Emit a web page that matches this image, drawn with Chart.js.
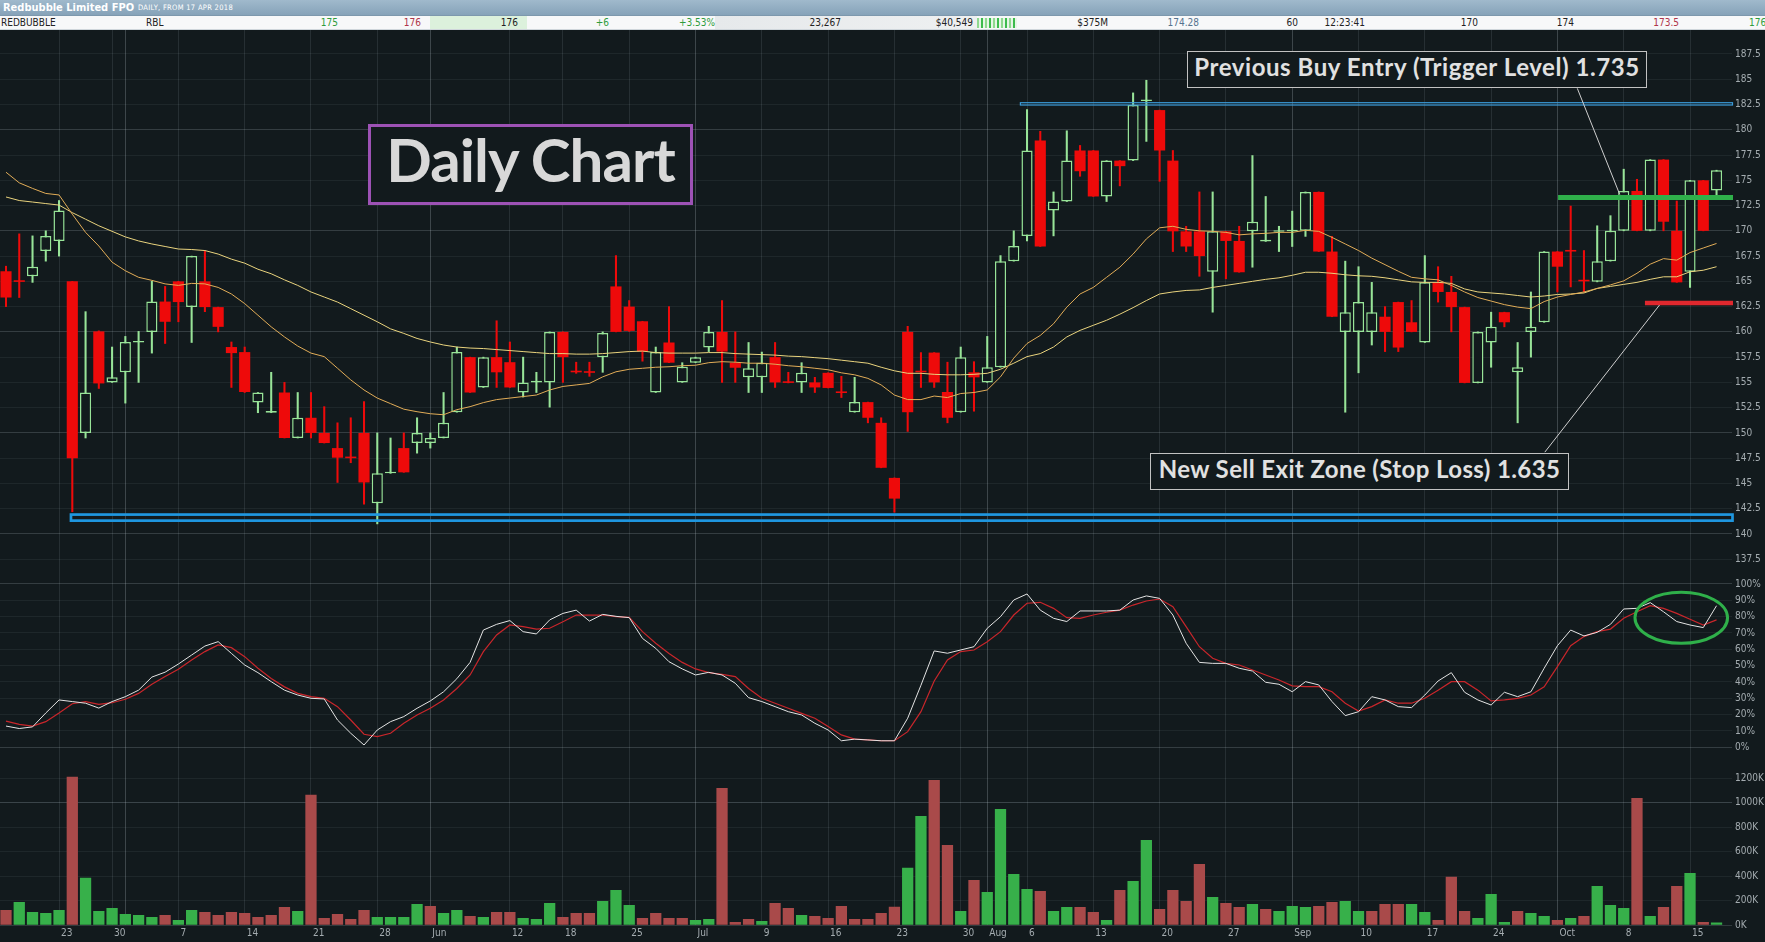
<!DOCTYPE html>
<html>
<head>
<meta charset="utf-8">
<title>Redbubble Limited FPO – Daily Chart</title>
<script src="https://cdn.jsdelivr.net/npm/chart.js@4.4.1/dist/chart.umd.min.js"></script>
<style>
  html, body { margin:0; padding:0; }
  body { width:1765px; height:942px; overflow:hidden; background:#121a1d; position:relative;
         font-family:'DejaVu Sans Condensed','Liberation Sans Narrow','DejaVu Sans',sans-serif; }
  .abs { position:absolute; white-space:nowrap; }
  #bar1 { left:0; top:0; width:1765px; height:15px; background:linear-gradient(#a0b9cc,#86a3b9); }
  #bar2 { left:0; top:15px; width:1765px; height:15px; background:#f7f8f9; border-top:1px solid #7d98ad; border-bottom:1px solid #cfd6db; box-sizing:border-box; }
  .t1 { top:0; height:15px; line-height:15px; color:#fff; }
  .h2 { top:16px; height:14px; line-height:14px; font-size:10px; color:#222; }
  .g { color:#2f9c3c; } .r { color:#b0364a; } .s { color:#56738f; }
  .cell { top:16px; height:13px; }
  canvas { position:absolute; left:0; }
  .note { box-sizing:border-box; background:#121a1d; text-align:center; font-family:Lato,'Open Sans',sans-serif; font-weight:700; color:#e1e1e1; z-index:5; }
  #dailyBox { left:368px; top:124px; width:325px; height:81px; border:3px solid #9d52b5; font-size:60px; line-height:65px; color:#d8d8d8; }
  #buyBox { left:1187px; top:51px; width:460px; height:37px; border:1.5px solid #c2c2c2; font-size:24px; line-height:30px; }
  #sellBox { left:1150px; top:453px; width:419px; height:37px; border:1.5px solid #c2c2c2; font-size:24px; line-height:30px; }
</style>
</head>
<body>
<div class="abs" id="bar1"></div>
<div class="abs t1" style="left:3px;font-size:11px;font-weight:bold;">Redbubble Limited FPO</div>
<div class="abs t1" style="left:138px;font-size:7.5px;letter-spacing:0.3px;">DAILY, FROM 17 APR 2018</div>
<div class="abs" id="bar2"></div>
<div class="abs cell" style="left:430px;width:97px;background:#dcf1dc;"></div>
<div class="abs cell" style="left:715px;width:262px;background:linear-gradient(90deg,#e6e9eb,#eef0f1);"></div>
<div class="abs cell" style="left:977px;width:40px;top:18px;height:10px;background:repeating-linear-gradient(90deg,#8fd98f 0 2px,#e6f6e6 2px 4px,#3dbb4d 4px 6px,#e6f6e6 6px 8px);"></div>
<div class="abs h2" style="left:1px;">REDBUBBLE</div>
<div class="abs h2" style="left:146px;">RBL</div>
<div class="abs h2 g" style="right:1427px;">175</div>
<div class="abs h2 r" style="right:1344px;">176</div>
<div class="abs h2" style="right:1247px;">176</div>
<div class="abs h2 g" style="right:1156px;">+6</div>
<div class="abs h2 g" style="right:1050px;">+3.53%</div>
<div class="abs h2" style="right:924px;">23,267</div>
<div class="abs h2" style="right:792px;">$40,549</div>
<div class="abs h2" style="right:657px;">$375M</div>
<div class="abs h2 s" style="right:566px;">174.28</div>
<div class="abs h2" style="right:467px;">60</div>
<div class="abs h2" style="right:400px;">12:23:41</div>
<div class="abs h2" style="right:287px;">170</div>
<div class="abs h2" style="right:191px;">174</div>
<div class="abs h2 r" style="right:86px;">173.5</div>
<div class="abs h2 g" style="left:1749px;">176</div>

<div class="abs note" id="dailyBox"><span>Daily Chart</span></div>
<div class="abs note" id="buyBox"><span>Previous Buy Entry (Trigger Level) 1.735</span></div>
<div class="abs note" id="sellBox"><span>New Sell Exit Zone (Stop Loss) 1.635</span></div>

<script>
// ---------------- DATA ----------------
const dates = [
 '2018-04-17','2018-04-18','2018-04-19','2018-04-20','2018-04-23','2018-04-24','2018-04-26','2018-04-27','2018-04-30',
 '2018-05-01','2018-05-02','2018-05-03','2018-05-04','2018-05-07','2018-05-08','2018-05-09','2018-05-10','2018-05-11',
 '2018-05-14','2018-05-15','2018-05-16','2018-05-17','2018-05-18','2018-05-21','2018-05-22','2018-05-23','2018-05-24',
 '2018-05-25','2018-05-28','2018-05-29','2018-05-30','2018-05-31',
 '2018-06-01','2018-06-04','2018-06-05','2018-06-06','2018-06-07','2018-06-08','2018-06-12','2018-06-13','2018-06-14',
 '2018-06-15','2018-06-18','2018-06-19','2018-06-20','2018-06-21','2018-06-22','2018-06-25','2018-06-26','2018-06-27',
 '2018-06-28','2018-06-29',
 '2018-07-02','2018-07-03','2018-07-04','2018-07-05','2018-07-06','2018-07-09','2018-07-10','2018-07-11','2018-07-12',
 '2018-07-13','2018-07-16','2018-07-17','2018-07-18','2018-07-19','2018-07-20','2018-07-23','2018-07-24','2018-07-25',
 '2018-07-26','2018-07-27','2018-07-30','2018-07-31',
 '2018-08-01','2018-08-02','2018-08-03','2018-08-06','2018-08-07','2018-08-08','2018-08-09','2018-08-10','2018-08-13',
 '2018-08-14','2018-08-15','2018-08-16','2018-08-17','2018-08-20','2018-08-21','2018-08-22','2018-08-23','2018-08-24',
 '2018-08-27','2018-08-28','2018-08-29','2018-08-30','2018-08-31',
 '2018-09-03','2018-09-04','2018-09-05','2018-09-06','2018-09-07','2018-09-10','2018-09-11','2018-09-12','2018-09-13',
 '2018-09-14','2018-09-17','2018-09-18','2018-09-19','2018-09-20','2018-09-21','2018-09-24','2018-09-25','2018-09-26',
 '2018-09-27','2018-09-28',
 '2018-10-01','2018-10-02','2018-10-03','2018-10-04','2018-10-05','2018-10-08','2018-10-09','2018-10-10','2018-10-11',
 '2018-10-12','2018-10-15','2018-10-16','2018-10-17'
];

const open = [
 166.0,165.0,165.5,168.0,169.0,165.0,150.0,160.05,155.0,156.0,
 158.95,160.0,163.0,165.0,162.45,165.0,162.45,158.5,158.0,153.0,
 152.0,154.0,149.5,151.5,150.0,148.5,147.5,150.0,143.05,146.0,
 148.5,149.0,149.0,149.5,152.05,157.5,154.5,157.5,157.0,154.0,
 155.0,155.0,160.0,156.05,156.0,157.5,164.5,162.5,161.05,154.0,
 158.95,155.0,156.95,158.45,160.0,156.95,155.5,155.5,157.5,155.0,
 155.0,155.0,155.95,154.0,152.05,153.05,151.0,145.55,160.0,156.0,
 157.95,154.05,152.05,156.0,155.0,156.5,167.0,169.5,178.95,172.0,
 172.9,177.95,177.95,173.4,176.95,176.95,182.85,181.95,176.95,169.95,
 169.95,165.95,169.95,169.0,169.95,168.95,169.9,169.95,170.0,173.85,
 167.95,160.0,160.0,160.0,161.5,162.95,160.95,158.95,164.9,163.95,
 162.45,154.95,158.95,161.95,156.0,160.0,160.95,167.95,168.0,165.05,
 164.95,167.0,170.0,173.95,170.0,177.05,170.0,165.95,175.0,174.0
];
const high = [
 166.5,169.7,169.5,170.0,173.0,165.0,162.0,160.1,158.5,159.55,
 160.05,165.0,164.5,165.0,167.5,168.0,162.45,159.0,158.5,154.0,
 156.0,155.0,154.0,154.0,152.6,151.0,151.5,153.1,150.0,149.5,
 150.0,151.5,150.0,154.0,158.5,157.5,157.5,161.1,159.0,157.5,
 156.0,160.0,160.0,157.0,157.0,160.0,167.55,163.1,161.05,158.5,
 162.5,156.95,157.5,160.55,163.1,160.0,158.95,158.0,158.95,156.0,
 156.95,155.5,155.95,155.6,155.5,153.05,151.5,145.55,160.55,157.95,
 157.95,157.0,158.5,157.05,159.55,167.55,170.0,182.0,179.85,173.85,
 179.9,178.45,177.95,176.95,176.95,183.65,184.9,181.95,177.95,170.45,
 173.85,173.85,169.95,170.45,177.45,173.4,170.45,171.95,173.85,173.85,
 169.45,167.0,166.45,164.9,162.5,162.95,163.1,167.55,166.45,165.5,
 162.45,160.0,161.95,161.95,158.95,163.95,167.95,167.95,172.45,168.05,
 170.5,171.5,176.1,175.1,177.05,177.05,172.95,175.0,175.0,176.0
];
const low = [
 162.5,163.4,164.9,167.0,167.5,142.2,149.5,154.4,155.0,152.95,
 155.0,157.9,158.85,161.0,158.95,162.0,160.0,154.5,154.0,152.0,
 152.0,149.5,149.5,149.5,149.0,145.1,147.05,142.95,141.0,146.0,
 146.1,148.0,148.5,149.5,152.05,154.0,154.5,154.5,154.5,153.55,
 154.0,152.55,155.0,155.9,155.6,156.0,160.0,160.05,157.1,154.0,
 156.95,155.0,156.95,158.05,155.0,155.0,154.0,154.0,154.5,154.95,
 154.0,154.0,154.45,153.5,152.05,151.0,146.55,142.15,150.15,154.5,
 154.5,151.0,152.05,152.15,155.0,156.5,167.0,169.0,168.45,169.5,
 172.9,175.4,173.4,172.9,174.45,176.95,178.85,174.9,167.95,167.95,
 165.5,161.95,165.25,165.9,166.4,168.95,167.95,168.45,169.45,167.95,
 161.5,152.05,155.95,158.7,158.05,158.05,160.0,158.95,162.95,160.0,
 154.95,154.95,156.5,160.5,151.0,157.5,160.95,163.95,164.45,163.95,
 164.95,167.0,170.0,170.0,170.0,170.0,164.9,164.4,170.0,173.5
];
const close = [
 163.4,164.95,166.45,169.5,172.0,147.5,154.0,154.9,155.5,159.0,
 159.05,163.0,161.0,162.95,167.5,162.45,160.5,157.9,154.05,154.0,
 152.05,149.5,151.5,150.0,149.0,147.55,147.5,145.1,146.0,146.05,
 146.1,150.0,149.5,151.0,158.0,154.0,157.5,156.0,154.5,155.0,
 155.05,160.0,157.5,156.0,155.95,159.9,160.0,160.1,158.05,158.0,
 156.95,156.55,157.5,160.0,158.05,156.45,156.4,156.95,155.0,154.95,
 155.95,154.5,154.45,153.95,153.05,151.5,146.55,143.5,152.05,156.0,
 155.0,151.5,157.5,155.5,156.5,167.0,168.5,177.95,168.45,172.9,
 176.95,175.9,173.4,176.95,176.4,182.45,182.95,177.95,169.95,168.45,
 167.5,169.95,169.0,165.9,170.9,169.0,169.95,170.0,173.85,167.95,
 161.5,161.95,162.95,161.95,160.0,158.45,160.0,164.9,163.95,162.45,
 154.95,160.0,160.5,160.95,156.5,160.5,167.95,166.45,167.95,165.0,
 167.0,170.0,173.95,170.0,177.05,170.9,164.9,175.0,170.0,176.0
];
const maFast = [
 175.8,174.75,174.2,173.7,173.55,171.65,169.85,168.5,166.9,166.05,
 165.4,165.1,164.75,164.6,164.8,164.75,164.4,163.75,162.8,161.65,
 160.5,159.5,158.6,157.9,157.55,156.4,155.25,154.25,153.45,152.9,
 152.35,152.1,151.9,151.8,152.3,152.6,153.0,153.3,153.45,153.6,
 153.75,154.25,154.6,154.75,154.9,155.55,156.05,156.3,156.4,156.5,
 156.55,156.65,156.7,156.95,157.05,157.0,156.9,156.9,156.8,156.65,
 156.55,156.4,156.25,155.95,155.75,155.4,154.75,153.75,153.3,153.3,
 153.65,153.5,153.9,154.0,154.25,155.55,157.4,158.85,159.65,160.8,
 162.45,163.75,164.4,165.4,166.4,167.7,169.2,170.3,170.45,170.15,
 170.0,169.95,169.85,169.6,169.7,169.75,169.85,169.85,170.05,169.95,
 169.35,168.7,168.05,167.3,166.65,166.0,165.4,165.25,165.15,164.6,
 163.95,163.4,163.05,162.7,162.45,162.3,163.0,163.45,163.7,163.95,
 164.3,164.65,165.05,165.8,166.7,167.25,167.1,167.85,168.3,168.75
];
const maSlow = [
 173.35,173.0,172.85,172.7,172.55,171.8,171.15,170.5,169.95,169.4,
 169.0,168.7,168.45,168.2,168.15,168.05,167.7,167.2,166.8,166.2,
 165.75,165.15,164.6,163.95,163.45,162.95,162.3,161.65,161.0,160.3,
 159.85,159.35,159.0,158.7,158.5,158.4,158.35,158.25,158.15,158.05,
 157.95,157.85,157.85,157.8,157.8,157.85,157.95,158.05,158.1,157.95,
 157.9,157.9,157.9,157.95,157.95,157.85,157.8,157.75,157.7,157.6,
 157.55,157.45,157.35,157.2,157.05,156.9,156.5,156.15,155.9,155.9,
 155.8,155.75,155.75,155.8,155.9,156.3,156.9,157.55,157.85,158.5,
 159.5,160.15,160.65,161.15,161.75,162.4,163.1,163.75,163.95,164.1,
 164.15,164.4,164.6,164.8,165.0,165.2,165.35,165.6,165.9,165.9,
 165.8,165.65,165.55,165.5,165.35,165.15,164.95,164.9,164.9,164.8,
 164.25,163.95,163.85,163.75,163.6,163.45,163.55,163.7,163.75,163.85,
 164.3,164.5,164.7,164.9,165.2,165.45,165.45,165.95,166.1,166.45
];
const stochK = [
 13,11.5,12.5,21,29,28,27,24,28,31,
 35,43,46,51,56.5,62,64.7,57.5,50.4,45.7,
 40.2,35,32,30,29.6,16.7,8.6,1.4,10.6,15.7,
 18.8,23.9,28.4,34,42,52,71.8,75.3,77.6,70.8,
 69.4,78,82,84,77.3,81.4,80.2,79.4,66.7,60.6,
 52.4,48,44.3,45.9,44.3,39.2,30.4,28,24.9,21.8,
 19.8,14.7,10.6,4,5,4.5,4,4,17.8,38,
 59,57.6,59.6,61.6,72.9,80,90.2,93.9,84,79,
 77,83.5,83.5,83.5,84,90.2,92.7,91.2,81,63.7,
 52,51.4,51.4,48.4,46.7,39.8,38.6,34,40.2,38.2,
 28,19.4,21.8,31,29,24.9,24.3,32,40.6,45.7,
 33.7,29,25.9,33.7,31,34,48.4,62.2,71.8,68.2,
 70.4,75.3,84.7,85.1,88.6,83,77,74.9,73.3,86.7
];
const stochD = [
 16,14,13,15.7,21,26.7,28,26.3,27.3,29.4,
 33,38.6,43.3,47.8,53.5,58.6,62.7,61,55.5,48.4,
 42.2,37,33,31,30,24.9,16.7,8,6.5,8.6,
 14.7,19.8,23.9,29,36,44.3,58.6,68.8,74.9,73.9,
 72.4,72.9,76.9,81,81,81,80,79.6,70.8,63.7,
 57.5,52,48,45.7,44.7,43.3,36,30,27,23.9,
 20.8,17.8,12.7,7.6,5,4.5,4,4,9.6,21.8,
 40.6,53.5,58.6,59.6,64.7,70.8,81,88.2,88.8,85.1,
 79.4,79,81,82.7,84,87.1,89.6,90.8,86.1,73.9,
 61.6,54.5,51.4,50.4,47.3,44.3,41.2,37.6,37.1,37.1,
 34,27,22.2,24.9,29,27,27,30,35,40.2,
 40.2,35,28.4,29,30,32,37.1,49.4,62.2,67.8,
 70.8,72.4,79,83,86.7,85.1,82,78.4,74.9,78
];
const volumeK = [
 125,190,109,100,125,1213,389,117,141,92,
 84,68,84,44,125,109,84,109,100,68,
 84,150,117,1066,60,92,52,125,68,68,
 68,174,158,100,125,76,68,109,109,60,
 52,182,68,100,100,199,288,166,60,100,
 60,60,44,52,1121,27,52,35,182,141,
 84,76,60,158,52,52,100,152,470,892,
 1186,655,117,370,272,949,419,296,280,117,
 150,150,109,44,288,362,696,133,288,199,
 500,231,182,150,174,133,117,158,150,158,
 190,199,117,117,174,174,174,109,44,397,
 117,60,256,27,117,100,76,44,60,76,
 321,166,141,1039,76,150,321,427,27,23
];

const tickDates = ['2018-04-23','2018-04-30','2018-05-01','2018-05-07','2018-05-14','2018-05-21','2018-05-28',
 '2018-06-01','2018-06-12','2018-06-18','2018-06-25','2018-07-02','2018-07-09','2018-07-16','2018-07-23',
 '2018-07-30','2018-08-01','2018-08-06','2018-08-13','2018-08-20','2018-08-27','2018-09-03','2018-09-10',
 '2018-09-17','2018-09-24','2018-10-01','2018-10-08','2018-10-15'];
const tickLabels = ['23','30','','7','14','21','28','Jun','12','18','25','Jul','9','16','23',
 '30','Aug','6','13','20','27','Sep','10','17','24','Oct','8','15'];
const priceTicks = [137.5,140,142.5,145,147.5,150,152.5,155,157.5,160,162.5,165,167.5,170,172.5,175,177.5,180,182.5,185,187.5];
const stochTicks = [0,10,20,30,40,50,60,70,80,90,100];
const volumeTicks = [0,200,400,600,800,1000,1200];

// annotation levels (data units: x = day number, y = price / %)
const resistanceZone = { fromDay: 77.5, top: 182.68, bottom: 182.45 };
const supportZone    = { fromDay: 5.9,  top: 141.92, bottom: 141.32 };
const triggerLevel   = { fromDay: 118.05, price: 173.3 };
const stopLevel      = { fromDay: 124.6,  price: 162.85 };
const buyConnector   = { from: [119.5, 184.1], to: [122.7, 173.6] };
const sellConnector  = { from: [117.05, 148.1], to: [125.7, 162.66] };
const stochCircle    = { x0: 123.85, x1: 130.83, y0: 63.7, y1: 94.9 };

// ---------------- STYLE / BUILD ----------------
const BG = '#121a1d';
const UP = '#98e498', DOWN = '#ee0a0a';
const VUP = '#37b04a', VDOWN = '#a94a4a';
const G_MINOR = 'rgba(190,205,212,0.075)', G_WEEK = 'rgba(190,205,212,0.12)', G_MAJOR = 'rgba(190,205,212,0.25)';
const FONT = "'DejaVu Sans Condensed','Liberation Sans Narrow',Roboto,sans-serif";

Chart.defaults.font.family = FONT;
Chart.defaults.font.size = 10;
Chart.defaults.color = '#a4acb0';
Chart.defaults.animation = false;

const N = dates.length;
const dayNo = dates.map((d, i) => i + 1);
const isUp = close.map((c, i) => c > open[i]);
const volUp = close.map((c, i) => i === 0 ? c > open[i] : c > close[i - 1]);
const tickPos = tickDates.map(d => dates.indexOf(d) + 1);
const monthStart = new Set(dayNo.filter((x, i) => i === 0 || dates[i].slice(5, 7) !== dates[i - 1].slice(5, 7)));

const X_MIN = 1 - 6 / 13.26, X_MAX = X_MIN + 1732 / 13.26;

function xAxis(showLabels) {
  return {
    type: 'linear', min: X_MIN, max: X_MAX, offset: false, bounds: 'data',
    afterBuildTicks: s => { s.ticks = tickPos.map(v => ({ value: v })); },
    afterFit: s => { s.height = showLabels ? 16.7 : 0; s.paddingLeft = 0; s.paddingRight = 0; },
    ticks: { display: showLabels, autoSkip: false, maxRotation: 0, minRotation: 0, align: 'start', padding: 2, labelOffset: 2,
             callback: v => { const k = tickPos.indexOf(v); return k >= 0 ? tickLabels[k] : ''; } },
    grid: { offset: false, drawTicks: false, lineWidth: 1,
            color: c => (c.tick && monthStart.has(c.tick.value)) ? G_MAJOR : G_WEEK },
    border: { display: false }
  };
}
function yAxis(min, max, ticks, fmt, colorFn) {
  return {
    position: 'right', min, max, bounds: 'data', beginAtZero: false,
    afterBuildTicks: s => { s.ticks = ticks.map(v => ({ value: v })); },
    afterFit: s => { s.width = 33; s.paddingTop = 0; s.paddingBottom = 0; },
    ticks: { padding: 3, autoSkip: false, callback: fmt },
    grid: { drawTicks: false, lineWidth: 1, color: c => colorFn(c.tick ? c.tick.value : null) },
    border: { display: false }
  };
}
function mkCanvas(top, h) {
  const c = document.createElement('canvas');
  c.width = 1765; c.height = h;
  c.style.top = top + 'px'; c.style.width = '1765px'; c.style.height = h + 'px';
  document.body.insertBefore(c, document.getElementById('dailyBox'));
  return c;
}
const common = { responsive: false, animation: false, events: [],
  plugins: { legend: { display: false }, tooltip: { enabled: false } },
  layout: { padding: 0 } };

// ---- price panel ----
const priceAnnot = {
  id: 'priceAnnot',
  afterDatasetsDraw(chart) {
    const { ctx, chartArea: a, scales: { x, y } } = chart;
    ctx.save();
    // support / resistance zones
    ctx.strokeStyle = '#1f97e0';
    ctx.lineWidth = 2.7;
    let x0 = x.getPixelForValue(supportZone.fromDay), t = y.getPixelForValue(supportZone.top), b = y.getPixelForValue(supportZone.bottom);
    ctx.strokeRect(x0, t, a.right + 0.5 - x0, b - t);
    ctx.strokeStyle = '#3a9ad8';
    ctx.lineWidth = 1.2;
    x0 = x.getPixelForValue(resistanceZone.fromDay); t = y.getPixelForValue(resistanceZone.top); b = y.getPixelForValue(resistanceZone.bottom);
    ctx.strokeRect(x0, t, a.right + 0.5 - x0, b - t);
    // trigger & stop levels
    ctx.lineCap = 'butt';
    ctx.strokeStyle = '#2fb04a'; ctx.lineWidth = 5;
    let py = y.getPixelForValue(triggerLevel.price);
    ctx.beginPath(); ctx.moveTo(x.getPixelForValue(triggerLevel.fromDay), py); ctx.lineTo(a.right + 1, py); ctx.stroke();
    ctx.strokeStyle = '#e0282e'; ctx.lineWidth = 4.5;
    py = y.getPixelForValue(stopLevel.price);
    ctx.beginPath(); ctx.moveTo(x.getPixelForValue(stopLevel.fromDay), py); ctx.lineTo(a.right + 1, py); ctx.stroke();
    // connectors
    ctx.strokeStyle = '#cfcfcf'; ctx.lineWidth = 1;
    for (const c of [buyConnector, sellConnector]) {
      ctx.beginPath();
      ctx.moveTo(x.getPixelForValue(c.from[0]), y.getPixelForValue(c.from[1]));
      ctx.lineTo(x.getPixelForValue(c.to[0]), y.getPixelForValue(c.to[1]));
      ctx.stroke();
    }
    ctx.restore();
  }
};

new Chart(mkCanvas(30, 545), {
  type: 'bar',
  data: {
    datasets: [
      { type: 'line', label: 'MA fast', data: dayNo.map((x, i) => ({ x, y: maFast[i] })),
        borderColor: '#e2ad58', borderWidth: 1, pointRadius: 0, tension: 0, order: 0 },
      { type: 'line', label: 'MA slow', data: dayNo.map((x, i) => ({ x, y: maSlow[i] })),
        borderColor: '#ead47e', borderWidth: 1, pointRadius: 0, tension: 0, order: 0 },
      { type: 'bar', label: 'Body', data: dayNo.map((x, i) => ({ x, y: [open[i], close[i]] })),
        backgroundColor: isUp.map(u => u ? BG : DOWN), borderColor: isUp.map(u => u ? UP : DOWN),
        borderWidth: isUp.map(u => u ? 1.5 : 0), borderSkipped: false,
        barPercentage: 0.84, categoryPercentage: 1, grouped: false, minBarLength: 1.6, order: 1 },
      { type: 'bar', label: 'Range', data: dayNo.map((x, i) => ({ x, y: [low[i], high[i]] })),
        backgroundColor: isUp.map(u => u ? UP : DOWN), barThickness: 1.4, grouped: false, order: 2 }
    ]
  },
  options: Object.assign({}, common, {
    scales: {
      x: xAxis(false),
      y: yAxis(135.94, 189.875, priceTicks, v => (v % 1 === 0 ? String(v) : v.toFixed(1)),
               v => (v !== null && v % 10 === 0) ? 'rgba(190,205,212,0.2)' : G_MINOR)
    }
  }),
  plugins: [priceAnnot]
});

// ---- stochastic panel ----
const stochAnnot = {
  id: 'stochAnnot',
  afterDatasetsDraw(chart) {
    const { ctx, scales: { x, y } } = chart;
    const l = x.getPixelForValue(stochCircle.x0), r = x.getPixelForValue(stochCircle.x1);
    const t = y.getPixelForValue(stochCircle.y1), b = y.getPixelForValue(stochCircle.y0);
    ctx.save();
    ctx.strokeStyle = '#2fb04a'; ctx.lineWidth = 3;
    ctx.beginPath(); ctx.ellipse((l + r) / 2, (t + b) / 2, (r - l) / 2, (b - t) / 2, 0, 0, Math.PI * 2); ctx.stroke();
    ctx.restore();
  }
};
new Chart(mkCanvas(575, 182), {
  type: 'line',
  data: {
    datasets: [
      { label: '%K', data: dayNo.map((x, i) => ({ x, y: stochK[i] })), borderColor: '#e4e4e4', borderWidth: 1, pointRadius: 0, tension: 0 },
      { label: '%D', data: dayNo.map((x, i) => ({ x, y: stochD[i] })), borderColor: '#c9262b', borderWidth: 1.2, pointRadius: 0, tension: 0 }
    ]
  },
  options: Object.assign({}, common, {
    scales: {
      x: xAxis(false),
      y: yAxis(-5.94, 105.51, stochTicks, v => v + '%',
               v => (v === 0 || v === 100) ? 'rgba(190,205,212,0.2)' : G_MINOR)
    }
  }),
  plugins: [stochAnnot]
});

// ---- volume panel ----
new Chart(mkCanvas(757, 185), {
  type: 'bar',
  data: {
    datasets: [
      { label: 'Volume', data: dayNo.map((x, i) => ({ x, y: volumeK[i] })),
        backgroundColor: volUp.map(u => u ? VUP : VDOWN), barPercentage: 0.85, categoryPercentage: 1, grouped: false }
    ]
  },
  options: Object.assign({}, common, {
    scales: {
      x: xAxis(true),
      y: yAxis(0, 1373.9, volumeTicks, v => v + 'K',
               v => v === 1000 ? 'rgba(190,205,212,0.24)' : (v === 0 ? 'rgba(190,205,212,0.18)' : G_MINOR))
    }
  })
});

// ---- fit annotation text widths to the reference boxes ----
function fitWidth(id, target) {
  const span = document.querySelector('#' + id + ' span');
  const cs = getComputedStyle(span);
  const ctx = document.createElement('canvas').getContext('2d');
  ctx.font = cs.fontWeight + ' ' + cs.fontSize + ' ' + cs.fontFamily;
  const txt = span.textContent;
  const w = ctx.measureText(txt).width;
  span.style.letterSpacing = ((target - w) / txt.length).toFixed(2) + 'px';
}
fitWidth('dailyBox', 290);
fitWidth('buyBox', 447);
fitWidth('sellBox', 402);
</script>
</body>
</html>
